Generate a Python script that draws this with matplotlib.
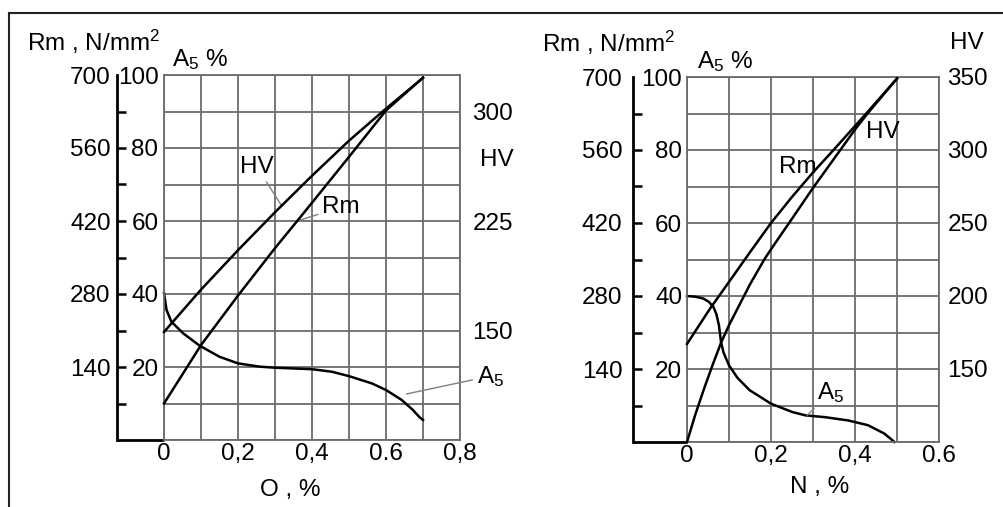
import numpy as np
import matplotlib
matplotlib.use('Agg')
import matplotlib.pyplot as plt
from matplotlib.lines import Line2D
from matplotlib.ticker import FixedLocator, MultipleLocator

plt.rcParams['font.family'] = ['Liberation Sans', 'DejaVu Sans']
plt.rcParams['mathtext.fontset'] = 'custom'
plt.rcParams['mathtext.rm'] = 'Liberation Sans'
plt.rcParams['mathtext.default'] = 'regular'

FS = 17.5
GRID = '#6b6b6b'
LEAD = '#808080'

# --- oxygen panel (left) ---
o_x_hv = [0, 0.1, 0.2, 0.3, 0.4, 0.5, 0.6, 0.7]
o_hv = [149, 178, 205, 231, 256, 280, 302, 323]
o_x_rm = [0, 0.1, 0.2, 0.3, 0.36, 0.4, 0.5, 0.6, 0.7]
o_rm = [70, 182, 277, 368, 420, 455, 543, 632, 695]
o_x_a5 = [0, 0.007, 0.02, 0.052, 0.097, 0.15, 0.2, 0.258, 0.3, 0.4, 0.454,
          0.5, 0.562, 0.6, 0.642, 0.673, 0.691, 0.7]
o_a5 = [40.2, 35.6, 32.4, 29.2, 25.8, 22.8, 21, 20.1, 19.8, 19.4, 18.7,
        17.5, 15.5, 13.7, 11, 8.2, 6.2, 5.5]
o_xticks = ['0', '0,2', '0,4', '0.6', '0,8']

# --- nitrogen panel (right) ---
n_x_rm = [0, 0.055, 0.1, 0.15, 0.2, 0.25, 0.3, 0.35, 0.4, 0.43, 0.5]
n_rm = [188, 256, 307, 364, 420, 470, 517, 561, 606, 633, 697]
n_x_hv = [0, 0.02, 0.04, 0.06, 0.081, 0.1, 0.125, 0.15, 0.184, 0.2, 0.243,
          0.3, 0.35, 0.4, 0.427, 0.5]
n_hv = [100, 119, 136, 152, 168, 180, 194, 208, 225, 232, 250, 274, 294,
        314, 324, 349]
n_x_a5 = [0, 0.02, 0.039, 0.052, 0.063, 0.07, 0.076, 0.081, 0.087, 0.1, 0.12,
          0.149, 0.2, 0.251, 0.282, 0.329, 0.384, 0.431, 0.47, 0.494]
n_a5 = [40, 39.8, 39.3, 38.4, 37, 35, 32, 27.4, 24.5, 21, 17.6, 14.2, 10.5,
        8.2, 7.3, 6.8, 5.9, 4.6, 2.3, 0]
n_xticks = ['0', '0,2', '0,4', '0.6']

rm_ticks = [140, 280, 420, 560, 700]
rm_minor = [70, 210, 350, 490, 630]
a5_ticks = [20, 40, 60, 80, 100]

W, H = 1004, 507
fig = plt.figure(figsize=(W / 100, H / 100), dpi=100)


def px(x, y):
    return x / W, 1 - y / H


def panel(x0, x1, y0, y1, xmax, xlabels, spine_x, hv_lim, hv_ticks,
          rm_pad, a5_pad, hv_pad):
    rect = [x0 / W, 1 - y1 / H, (x1 - x0) / W, (y1 - y0) / H]
    ax = fig.add_axes(rect)
    ax.set_xlim(0, xmax)
    ax.set_ylim(0, 100)
    ax.xaxis.set_major_locator(FixedLocator(np.arange(0, xmax + 0.01, 0.2)))
    ax.set_xticklabels(xlabels)
    ax.xaxis.set_minor_locator(MultipleLocator(0.1))
    ax.yaxis.set_major_locator(FixedLocator(a5_ticks))
    ax.yaxis.set_minor_locator(MultipleLocator(10))
    ax.grid(which='both', color=GRID, lw=1.3)
    ax.set_axisbelow(True)
    ax.tick_params(which='both', length=0, labelsize=FS)
    ax.tick_params(axis='x', pad=2)
    ax.tick_params(axis='y', pad=a5_pad)
    for s in ax.spines.values():
        s.set_color(GRID)
        s.set_linewidth(1.3)

    frac = (spine_x - x0) / (x1 - x0)
    ax_rm = ax.twinx()
    ax_rm.set_ylim(0, 700)
    ax_rm.yaxis.tick_left()
    for s in ['top', 'right', 'bottom']:
        ax_rm.spines[s].set_visible(False)
    ax_rm.spines['left'].set_position(('axes', frac))
    ax_rm.spines['left'].set_linewidth(2)
    ax_rm.spines['left'].set_color('black')
    ax_rm.yaxis.set_major_locator(FixedLocator(rm_ticks))
    ax_rm.yaxis.set_minor_locator(FixedLocator(rm_minor))
    ax_rm.tick_params(which='both', direction='in', length=6.5, width=1.8,
                      pad=rm_pad, labelsize=FS)
    ax_rm.yaxis.get_major_ticks()[-1].tick1line.set_visible(False)

    ax_hv = ax.twinx()
    ax_hv.set_ylim(*hv_lim)
    for s in ax_hv.spines.values():
        s.set_visible(False)
    ax_hv.yaxis.set_major_locator(FixedLocator(hv_ticks))
    ax_hv.tick_params(length=0, pad=hv_pad, labelsize=FS)

    ax.plot([frac, 0], [0, 0], transform=ax.transAxes, color='black', lw=2,
            clip_on=False, solid_capstyle='butt')
    return ax, ax_rm, ax_hv


# left panel: oxygen
axL, axL_rm, axL_hv = panel(164, 460, 75, 440, 0.8, o_xticks, 117,
                            (75, 325), [150, 225, 300], 4.5, 4, 9)
axL_hv.plot(o_x_hv, o_hv, color='black', lw=1.8, clip_on=False)
axL_rm.plot(o_x_rm, o_rm, color='black', lw=1.8, clip_on=False)
axL.plot(o_x_a5, o_a5, color='black', lw=1.8, clip_on=False)

lead = dict(arrowstyle='-', color=LEAD, lw=1, shrinkA=1, shrinkB=0)
axL.annotate('HV', xy=(0.316, 64.5), xytext=(0.251, 74.8), ha='center',
             va='center', fontsize=FS, arrowprops=lead)
axL.annotate('Rm', xy=(0.36, 60), xytext=(0.478, 63.8), ha='center',
             va='center', fontsize=FS, arrowprops=lead)
axL.annotate('A$_5$', xy=(0.655, 12.6), xytext=(0.845, 17.5), ha='left',
             va='center', fontsize=FS, arrowprops=lead, annotation_clip=False)

fig.text(*px(27, 42), 'Rm , N/mm$^2$', fontsize=FS, ha='left', va='center')
fig.text(*px(172, 60), 'A$_5$ %', fontsize=FS, ha='left', va='center')
fig.text(*px(497, 160), 'HV', fontsize=FS, ha='center', va='center')
fig.text(*px(290, 490), 'O , %', fontsize=FS, ha='center', va='center')

# right panel: nitrogen
axR, axR_rm, axR_hv = panel(687, 939, 77, 442, 0.6, n_xticks, 633,
                            (100, 350), [150, 200, 250, 300, 350], 7.5, 3.4, 6)
axR_rm.plot(n_x_rm, n_rm, color='black', lw=1.8, clip_on=False)
axR_hv.plot(n_x_hv, n_hv, color='black', lw=1.8, clip_on=False)
axR.plot(n_x_a5, n_a5, color='black', lw=1.8, clip_on=False)

axR.text(0.264, 75.4, 'Rm', fontsize=FS, ha='center', va='center')
axR.text(0.466, 85, 'HV', fontsize=FS, ha='center', va='center')
axR.annotate('A$_5$', xy=(0.286, 7.3), xytext=(0.343, 13.6), ha='center',
             va='center', fontsize=FS, arrowprops=lead)

fig.text(*px(542, 43), 'Rm , N/mm$^2$', fontsize=FS, ha='left', va='center')
fig.text(*px(697, 62), 'A$_5$ %', fontsize=FS, ha='left', va='center')
fig.text(*px(950, 43), 'HV', fontsize=FS, ha='left', va='center')
fig.text(*px(820, 487), 'N , %', fontsize=FS, ha='center', va='center')

# outer frame (top and left edges)
fig.add_artist(Line2D([9 / W, 9 / W], [0, 1 - 13 / H], color='#222222', lw=1.5))
fig.add_artist(Line2D([9 / W, 1], [1 - 13 / H, 1 - 13 / H], color='#222222', lw=1.5))

fig.savefig('out.png', dpi=100)
